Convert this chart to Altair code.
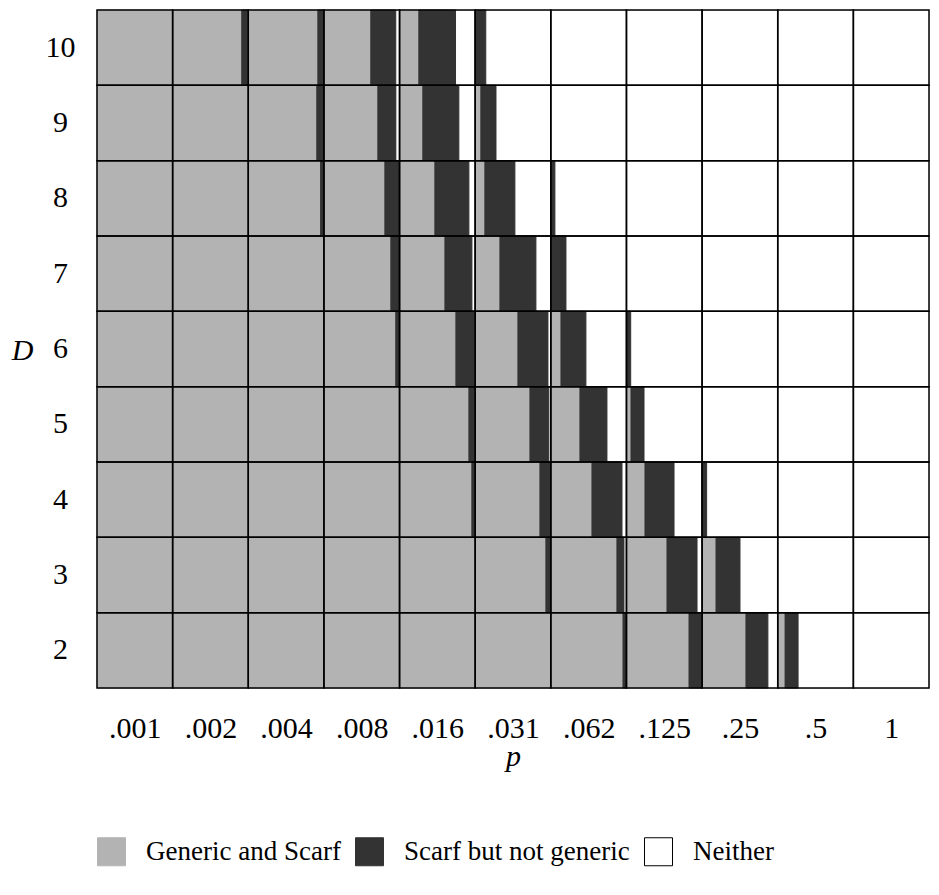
import altair as alt
import pandas as pd

# ---- data ----
p_labels = [".001", ".002", ".004", ".008", ".016", ".031", ".062", ".125", ".25", ".5", "1"]
D_values = [10, 9, 8, 7, 6, 5, 4, 3, 2]
statuses = ["Generic and Scarf", "Scarf but not generic", "Neither"]

# fraction of each cell that is "Generic and Scarf" (light grey), per D row
generic_and_scarf = {
    10: [1.0, 0.914, 0.92, 0.62, 0.255, 0.0, 0, 0, 0, 0, 0],
    9: [1.0, 1.0, 0.906, 0.713, 0.308, 0.075, 0, 0, 0, 0, 0],
    8: [1.0, 1.0, 0.956, 0.806, 0.467, 0.128, 0, 0, 0, 0, 0],
    7: [1.0, 1.0, 1.0, 0.885, 0.6, 0.327, 0, 0, 0, 0, 0],
    6: [1.0, 1.0, 1.0, 0.95, 0.745, 0.565, 0.134, 0, 0, 0, 0],
    5: [1.0, 1.0, 1.0, 1.0, 0.917, 0.724, 0.385, 0.06, 0, 0, 0],
    4: [1.0, 1.0, 1.0, 1.0, 0.956, 0.856, 0.544, 0.245, 0, 0, 0],
    3: [1.0, 1.0, 1.0, 1.0, 1.0, 0.935, 0.874, 0.536, 0.184, 0, 0],
    2: [1.0, 1.0, 1.0, 1.0, 1.0, 1.0, 0.954, 0.827, 0.58, 0.097, 0],
}
# fraction that is "Scarf but not generic" (dark grey)
scarf_not_generic = {
    10: [0, 0.086, 0.08, 0.33, 0.485, 0.14, 0, 0, 0, 0, 0],
    9: [0, 0, 0.094, 0.238, 0.476, 0.2, 0, 0, 0, 0, 0],
    8: [0, 0, 0.044, 0.19, 0.45, 0.397, 0.054, 0, 0, 0, 0],
    7: [0, 0, 0, 0.11, 0.357, 0.476, 0.2, 0, 0, 0, 0],
    6: [0, 0, 0, 0.045, 0.255, 0.397, 0.33, 0.056, 0, 0, 0],
    5: [0, 0, 0, 0, 0.08, 0.25, 0.357, 0.172, 0, 0, 0],
    4: [0, 0, 0, 0, 0.04, 0.14, 0.397, 0.384, 0.06, 0, 0],
    3: [0, 0, 0, 0, 0, 0.06, 0.093, 0.397, 0.317, 0, 0],
    2: [0, 0, 0, 0, 0, 0, 0.045, 0.17, 0.29, 0.172, 0],
}

# ---- tables ----
seg_rows, cell_rows = [], []
for D in D_values:
    for i in range(len(p_labels)):
        g = generic_and_scarf[D][i]
        d = scarf_not_generic[D][i]
        cell_rows.append({"D": D, "x0": i, "x1": i + 1})
        if g > 0:
            seg_rows.append({"D": D, "x0": i, "x1": i + g, "status": statuses[0]})
        if d > 0:
            seg_rows.append({"D": D, "x0": i + g, "x1": i + g + d, "status": statuses[1]})
seg_df = pd.DataFrame(seg_rows)
cell_df = pd.DataFrame(cell_rows)

FONT = "Liberation Serif"
FS = 30
label_expr = "[" + ",".join("'%s'" % l for l in p_labels) + "][floor(datum.value)]"

x_enc = alt.X(
    "x0:Q",
    scale=alt.Scale(domain=[0, len(p_labels)], nice=False, zero=False),
    axis=alt.Axis(
        values=[i + 0.5 for i in range(len(p_labels))],
        labelExpr=label_expr,
        ticks=False, tickSize=0, domain=False, grid=False,
        labelPadding=40, labelBaseline="middle", labelFontSize=FS,
        labelFont=FONT, labelColor="black",
        title="p", titleFont=FONT, titleFontStyle="italic", titleFontWeight="normal",
        titleFontSize=FS, titleColor="black", titleY=77, titleBaseline="alphabetic",
    ),
)
y_enc = alt.Y(
    "D:O",
    sort=D_values,
    scale=alt.Scale(paddingInner=0, paddingOuter=0),
    axis=alt.Axis(
        ticks=False, tickSize=0, domain=False, grid=False,
        labelPadding=37, labelAlign="center", labelBaseline="middle",
        labelFontSize=FS, labelFont=FONT, labelColor="black",
        title="D", titleFont=FONT, titleFontStyle="italic", titleFontWeight="normal",
        titleFontSize=FS, titleColor="black", titleAngle=0,
        titleX=-75, titleY=340, titleAlign="center", titleBaseline="middle",
    ),
)

leg = alt.Legend(
    orient="none", legendX=0, legendY=827, direction="horizontal", title=None,
    symbolType="square", symbolSize=784, symbolStrokeWidth=1,
    labelFont=FONT, labelFontSize=27, labelColor="black", labelOffset=20,
    labelLimit=0, columnPadding=12, padding=0, symbolOpacity=1,
)

bars = alt.Chart(seg_df).mark_rect(strokeWidth=1).encode(
    x=x_enc,
    x2="x1:Q",
    y=y_enc,
    fill=alt.Fill("status:N", scale=alt.Scale(domain=statuses, range=["#b3b3b3", "#333333", "white"]), legend=leg),
    stroke=alt.Stroke("status:N", scale=alt.Scale(domain=statuses, range=["#b3b3b3", "#333333", "black"]), legend=leg),
)

grid = alt.Chart(cell_df).mark_rect(filled=False, stroke="black", strokeWidth=1.5).encode(
    x=x_enc,
    x2="x1:Q",
    y=y_enc,
)

chart = alt.layer(bars, grid).properties(
    width=832,
    height=678,
    autosize=alt.AutoSizeParams(type="none"),
    padding={"left": 97, "top": 10, "right": 10, "bottom": 207},
).configure_view(stroke=None).configure(background="white")

chart.save("out.html", embed_options={"renderer": "svg", "actions": False})
